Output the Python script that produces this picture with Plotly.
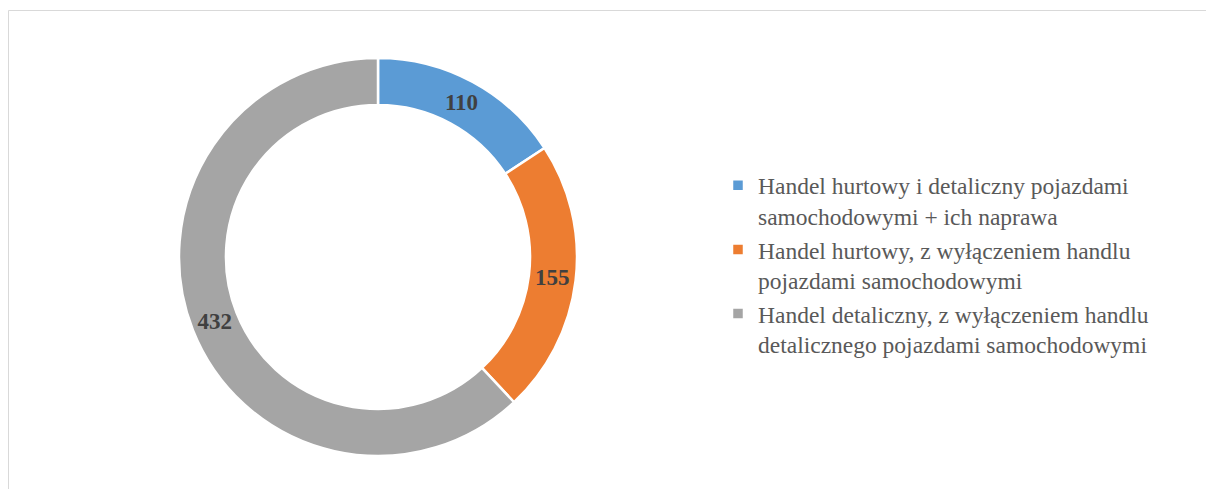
import plotly.graph_objects as go

categories = [
    "Handel hurtowy i detaliczny pojazdami<br>samochodowymi + ich naprawa",
    "Handel hurtowy, z wyłączeniem handlu<br>pojazdami samochodowymi",
    "Handel detaliczny, z wyłączeniem handlu<br>detalicznego pojazdami samochodowymi",
]
values = [110, 155, 432]
colors = ["#5B9BD5", "#ED7D31", "#A5A5A5"]

W, H = 1214, 489

fig = go.Figure(
    go.Pie(
        labels=categories,
        values=values,
        sort=False,
        direction="clockwise",
        rotation=0,
        hole=0.764,
        marker=dict(colors=colors, line=dict(color="white", width=2.5)),
        textinfo="value",
        textposition="inside",
        insidetextorientation="horizontal",
        textfont=dict(family="Liberation Serif", size=23, color="#404040", weight="bold"),
        domain=dict(x=[171 / W, 569 / W], y=[(H - 448) / H, (H - 50) / H]),
        hoverinfo="label+value+percent",
    )
)

fig.update_layout(
    width=W,
    height=H,
    margin=dict(l=0, r=0, t=0, b=0),
    paper_bgcolor="white",
    plot_bgcolor="white",
    showlegend=True,
    legend=dict(
        x=710 / W,
        y=(H - 257) / H,
        xanchor="left",
        yanchor="middle",
        font=dict(family="Liberation Serif", size=23.5, color="#595959"),
        valign="top",
        bgcolor="rgba(0,0,0,0)",
    ),
    shapes=[
        dict(
            type="path", xref="paper", yref="paper",
            path=f"M {0.5 / W},-0.1 L {0.5 / W},{(H - 2.5) / H} L {1205.5 / W},{(H - 2.5) / H}",
            line=dict(color="#D9D9D9", width=1),
        )
    ],
)

fig.write_html("out.html")
